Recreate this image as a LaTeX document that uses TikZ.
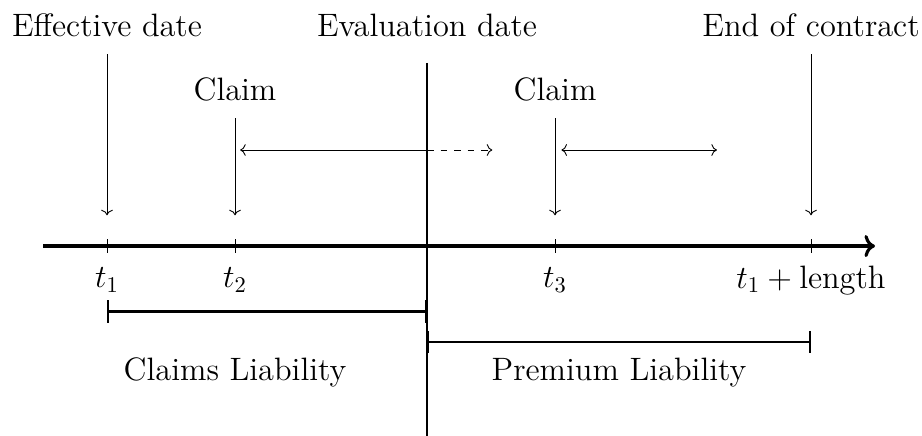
\documentclass[tikz,border=0pt]{standalone}
\usetikzlibrary{arrows.meta}
\begin{document}
\begin{tikzpicture}[
  lbl/.style={inner sep=0pt, font=\fontsize{14.4}{17}\selectfont},
  thinarrow/.style={->, line width=0.4pt},
  barline/.style={{Bar[width=10pt]}-{Bar[width=10pt]}, line width=1.1pt},
  tickmark/.style={line width=0.4pt}
]
\useasboundingbox (-1.672,-2.953) rectangle (12.734,3.844);
% axis
\coordinate (axL) at (-1,0);
\coordinate (axR) at (12,0);
\draw[->, line width=1.4pt] (axL) -- (axR);
% tick points
\coordinate (T1) at (0,0);
\coordinate (T2) at (2,0);
\coordinate (EV) at (5,0);
\coordinate (T3) at (7,0);
\coordinate (TE) at (11,0);
\foreach \p in {T1,T2,T3,TE}{\draw[tickmark] ([yshift=-3pt]\p) -- ([yshift=3pt]\p);}
% top labels
\node[lbl] (eff) at (0,3.45) {Effective date};
\node[lbl] (eva) at (5,3.45) {Evaluation date};
\node[lbl] (end) at (11,3.45) {End of contract};
\node[lbl] (c1) at (2,2.44) {Claim};
\node[lbl] (c2) at (7,2.44) {Claim};
% vertical arrows
\coordinate (effTop) at (0,3.0);
\coordinate (effBot) at (0,0.48);
\coordinate (endTop) at (11,3.0);
\coordinate (endBot) at (11,0.48);
\coordinate (c1Top) at (2,2.0);
\coordinate (c1Bot) at (2,0.48);
\coordinate (c2Top) at (7,2.0);
\coordinate (c2Bot) at (7,0.48);
\draw[thinarrow] (effTop) -- (effBot);
\draw[thinarrow] (endTop) -- (endBot);
\draw[thinarrow] (c1Top) -- (c1Bot);
\draw[thinarrow] (c2Top) -- (c2Bot);
% evaluation line
\coordinate (evTop) at (5,2.86);
\coordinate (evBot) at (5,-3);
\draw[line width=1pt] (evTop) -- (evBot);
% horizontal claim development arrows
\coordinate (h1L) at (2.08,1.5);
\coordinate (h1M) at (5,1.5);
\coordinate (h1R) at (6.02,1.5);
\draw[<-, line width=0.4pt] (h1L) -- (h1M);
\draw[->, dashed, line width=0.4pt] (h1M) -- (h1R);
\coordinate (h2L) at (7.1,1.5);
\coordinate (h2R) at (9.53,1.5);
\draw[<->, line width=0.4pt] (h2L) -- (h2R);
% tick labels
\node[lbl] (l1) at (0,-0.53) {$t_1$};
\node[lbl] (l2) at (2,-0.53) {$t_2$};
\node[lbl] (l3) at (7,-0.53) {$t_3$};
\node[lbl] (l4) at (11,-0.53) {$t_1+\mathrm{length}$};
% liability bars
\coordinate (cbL) at (0,-1.02);
\coordinate (cbR) at (5,-1.02);
\coordinate (pbL) at (5,-1.5);
\coordinate (pbR) at (11,-1.5);
\draw[barline] (cbL) -- (cbR);
\draw[barline] (pbL) -- (pbR);
\node[lbl] (cl) at (2,-1.97) {Claims Liability};
\node[lbl] (pl) at (8,-1.97) {Premium Liability};
\end{tikzpicture}
\end{document}
